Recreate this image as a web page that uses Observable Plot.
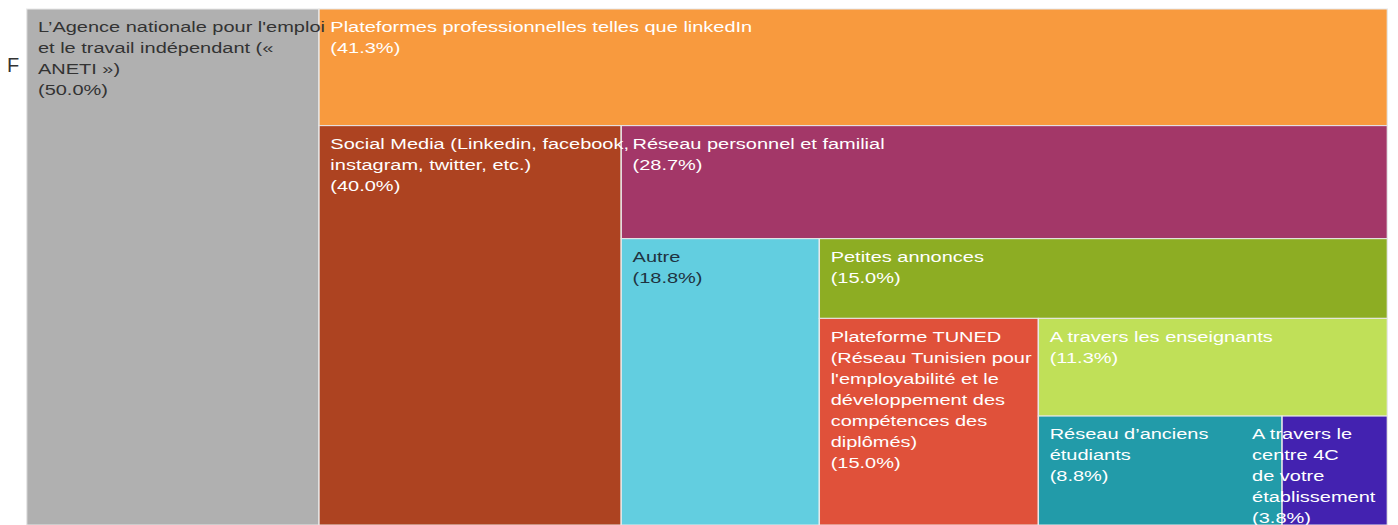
<!DOCTYPE html>
<html>
<head>
<meta charset="utf-8">
<script src="https://cdn.jsdelivr.net/npm/d3@7"></script>
<script src="https://cdn.jsdelivr.net/npm/@observablehq/plot@0.6"></script>
<style>
  html, body { margin: 0; padding: 0; background: #fff; overflow: hidden; }
  #wrap { position: relative; width: 1398px; height: 525px; }
  #frag { position: absolute; left: 7px; top: 54px; font: 20px "Liberation Sans", Arial, sans-serif; color: #333; }
  #chart { position: absolute; left: 0; top: 0; }
</style>
</head>
<body>
<div id="wrap">
  <div id="frag">F</div>
  <div id="chart"></div>
</div>
<script>
const labels = [
  "L’Agence nationale pour l'emploi\net le travail indépendant («\nANETI »)",
  "Plateformes professionnelles telles que linkedIn",
  "Social Media (Linkedin, facebook,\ninstagram, twitter, etc.)",
  "Réseau personnel et familial",
  "Autre",
  "Petites annonces",
  "Plateforme TUNED\n(Réseau Tunisien pour\nl'employabilité et le\ndéveloppement des\ncompétences des\ndiplômés)",
  "A travers les enseignants",
  "Réseau d’anciens\nétudiants",
  "A travers le\ncentre 4C\nde votre\nétablissement"
];
const values = [50.0, 41.3, 40.0, 28.7, 18.8, 15.0, 15.0, 11.3, 8.8, 3.8];
const colors = ["#b0b0b0", "#f89a3e", "#ad4321", "#a33768", "#62cee0", "#8dad23", "#e0513a", "#c0e058", "#229ba9", "#4322b0"];
const textColors = ["#333333", "#ffffff", "#ffffff", "#ffffff", "#1f3340", "#ffffff", "#ffffff", "#ffffff", "#ffffff", "#ffffff"];

// Plot drawn at original (unstretched) width, then stretched horizontally like the reference
const W = 1049, H = 525;
const mL = 20, mR = 8, mT = 9, mB = 0;
const iw = W - mL - mR, ih = H - mT - mB;

// Alternating strip treemap layout (column, band, column, band ...)
const total = d3.sum(values);
let x0 = 0, y0 = 0, x1 = iw, y1 = ih, rest = total;
const cells = values.map((v, i) => {
  const last = i === values.length - 1;
  let c;
  if (i % 2 === 0) {
    const w = last ? x1 - x0 : (x1 - x0) * v / rest;
    c = {x1: x0, x2: x0 + w, y1: y0, y2: y1};
    x0 += w;
  } else {
    const h = last ? y1 - y0 : (y1 - y0) * v / rest;
    c = {x1: x0, x2: x1, y1: y0, y2: y0 + h};
    y0 += h;
  }
  rest -= v;
  return {...c, label: labels[i], value: v, color: colors[i], tc: textColors[i],
          text: labels[i] + "\n(" + v.toFixed(1) + "%)", i};
});

const main = cells.filter(d => d.i !== cells.length - 1);
const lastCell = cells.filter(d => d.i === cells.length - 1);

const svg = Plot.plot({
  width: W, height: H,
  marginLeft: mL, marginRight: mR, marginTop: mT, marginBottom: mB,
  x: {domain: [0, iw], axis: null},
  y: {domain: [0, ih], reverse: true, axis: null},
  style: {fontFamily: "'Liberation Sans', Arial, sans-serif"},
  marks: [
    Plot.rect(cells, {x1: "x1", x2: "x2", y1: "y1", y2: "y2", fill: "color", stroke: "#e8e8e8", strokeWidth: 1}),
    Plot.text(main, {x: "x1", y: "y1", text: "text", fill: "tc", textAnchor: "start", lineAnchor: "top",
      dx: 8, dy: 8, fontSize: 15, lineHeight: 1.4}),
    Plot.text(lastCell, {x: "x1", y: "y1", text: "text", fill: "tc", textAnchor: "start", lineAnchor: "top",
      dx: -23, dy: 8, fontSize: 15, lineHeight: 1.4})
  ]
});
svg.setAttribute("preserveAspectRatio", "none");
svg.setAttribute("width", 1398);
svg.setAttribute("height", 525);
svg.style.width = "1398px";
svg.style.height = "525px";
svg.style.maxWidth = "none";
svg.style.background = "transparent";
document.getElementById("chart").appendChild(svg);
</script>
</body>
</html>
